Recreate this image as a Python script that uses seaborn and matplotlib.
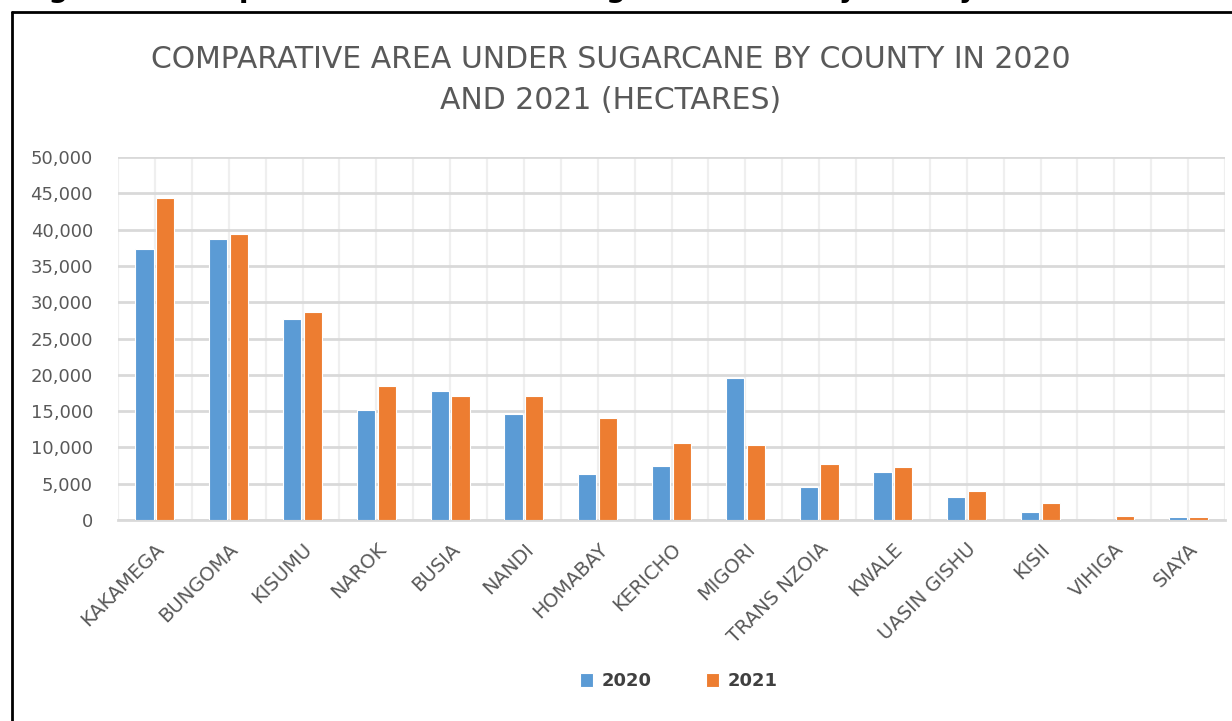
import matplotlib
matplotlib.use("Agg")
import matplotlib.pyplot as plt
import seaborn as sns
import pandas as pd
from matplotlib.lines import Line2D
from matplotlib.ticker import FuncFormatter, MultipleLocator

counties = ["KAKAMEGA", "BUNGOMA", "KISUMU", "NAROK", "BUSIA", "NANDI", "HOMABAY",
            "KERICHO", "MIGORI", "TRANS NZOIA", "KWALE", "UASIN GISHU", "KISII",
            "VIHIGA", "SIAYA"]
area_2020 = [37300, 38700, 27700, 15200, 17700, 14600, 6400, 7400, 19500, 4500,
             6600, 3100, 1100, 0, 400]
area_2021 = [44300, 39400, 28600, 18400, 17100, 17100, 14000, 10600, 10300, 7700,
             7300, 4000, 2300, 600, 400]
years = ["2020", "2021"]

df = pd.DataFrame({
    "county": counties * 2,
    "area": area_2020 + area_2021,
    "year": [years[0]] * len(counties) + [years[1]] * len(counties),
})

sns.set_theme(style="white")
plt.rcParams["font.family"] = ["DejaVu Sans"]

gray = "#595959"
fig = plt.figure(figsize=(12.32, 7.21), dpi=100)
ax = fig.add_axes([118 / 1232, 1 - 520 / 721, (1225 - 118) / 1232, (520 - 157) / 721])

sns.barplot(data=df, x="county", y="area", hue="year", order=counties,
            palette=["#5B9BD5", "#ED7D31"], saturation=1, width=0.56, gap=0.12,
            edgecolor="white", linewidth=0.8, ax=ax, legend=True, zorder=3)

ax.set_xlim(-0.5, len(counties) - 0.5)
ax.set_ylim(0, 50000)
ax.yaxis.set_major_locator(MultipleLocator(5000))
ax.yaxis.set_major_formatter(FuncFormatter(lambda v, p: f"{int(v):,}"))
ax.set_xlabel("")
ax.set_ylabel("")

# gridlines
ax.grid(axis="y", color="#D9D9D9", linewidth=2, zorder=0)
ax.set_xticks([i - 0.5 for i in range(len(counties) + 1)], minor=True)
ax.grid(axis="x", which="both", color="#EFEFEF", linewidth=1.6, zorder=0)
ax.set_axisbelow(True)
for s in ["top", "right", "left"]:
    ax.spines[s].set_visible(False)
ax.spines["bottom"].set_color("#D9D9D9")
ax.spines["bottom"].set_linewidth(2)

ax.tick_params(axis="both", which="both", length=0)
ax.tick_params(axis="y", labelsize=13, labelcolor=gray, pad=18)
ax.tick_params(axis="x", labelsize=14, labelcolor=gray, pad=14)
for lbl in ax.get_xticklabels():
    lbl.set_rotation(45)
    lbl.set_ha("right")
    lbl.set_rotation_mode("anchor")

# legend
handles, labels = ax.get_legend_handles_labels()
ax.legend_.remove()
fig.legend(handles, labels, loc="center", bbox_to_anchor=(679 / 1232, 1 - 681 / 721),
           ncol=2, frameon=False, handlelength=0.7, handleheight=0.8,
           columnspacing=3.0, handletextpad=0.5,
           prop={"weight": "bold", "size": 13}, labelcolor="#404040")

# title
fig.text(611 / 1232, 1 - 80 / 721,
         "COMPARATIVE AREA UNDER SUGARCANE BY COUNTY IN 2020\nAND 2021 (HECTARES)",
         ha="center", va="center", fontsize=21.5, color=gray, linespacing=1.5)

# cropped caption at the very top (only descenders visible, as in the reference)
fig.text(20 / 1232, 1 + 3 / 721,
         "Figure 6: Comparative Area Under Sugarcane (Ha) by County in 2020 and 2021",
         ha="left", va="baseline", fontsize=20, fontweight="bold", color="black")

# outer frame (top and left edges visible)
fig.add_artist(Line2D([12 / 1232, 12 / 1232], [0, 1 - 12 / 721], color="black",
                      linewidth=2, transform=fig.transFigure))
fig.add_artist(Line2D([12 / 1232, 1.0], [1 - 12 / 721, 1 - 12 / 721], color="black",
                      linewidth=2, transform=fig.transFigure))

fig.savefig("out.png", dpi=100, facecolor="white")
